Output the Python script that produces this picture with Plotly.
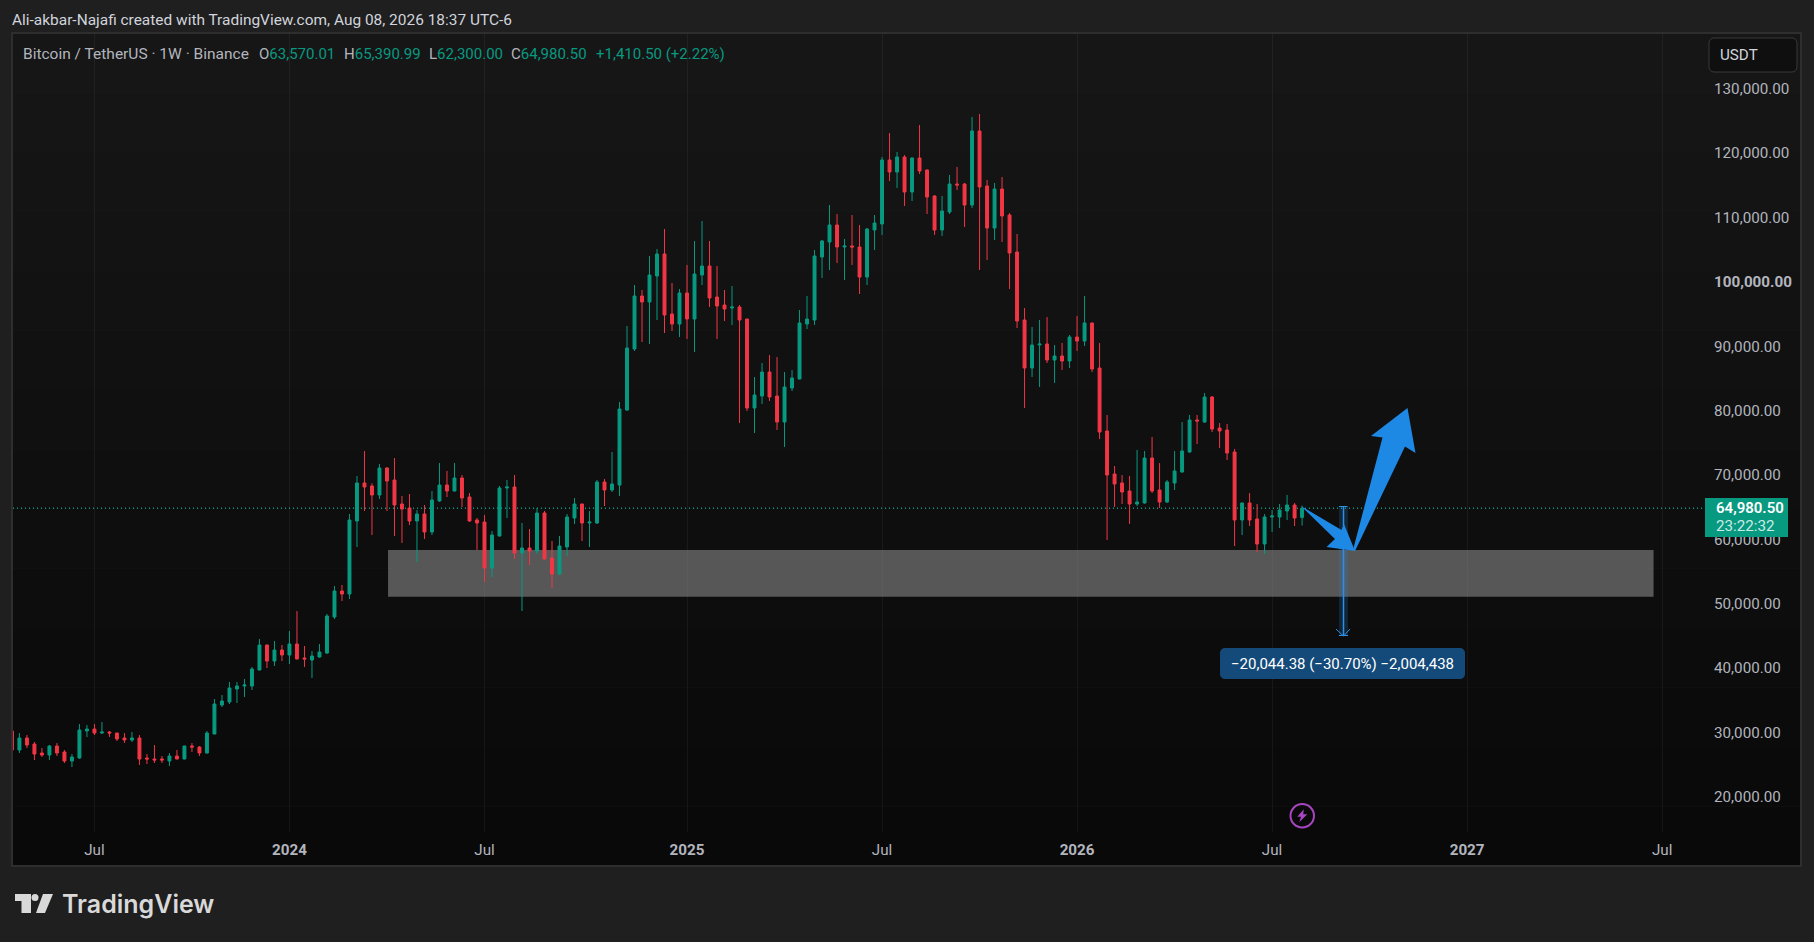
import pandas as pd
import plotly.graph_objects as go

# BTCUSDT weekly candles
dates = pd.date_range("2023-04-17", periods=173, freq="7D")
opens = [30392,27441,29305,28373,26975,26664,28062,27130,25733,26198,30400,30702,30080,30236,30080,29305,28994,29305,26198,26044,
         26044,25733,26509,26044,28062,27906,26975,29926,34431,34896,36915,37381,37381,39866,43748,41263,42972,42195,43903,41729,
         41419,41884,42505,48097,52135,51669,63007,68908,68443,67045,71238,69374,65647,65026,63007,64094,61298,66113,68598,67666,
         69685,66734,63162,62851,55707,60677,68132,68287,58037,58813,58347,64249,57260,54776,58969,63473,65647,62696,62696,69064,
         67821,68598,80243,89717,97948,97017,101054,104471,95152,93599,98414,94376,101209,102607,97793,96550,96085,96240,94376,80553,
         82417,86144,82417,78379,83660,85057,93599,94221,104005,106334,108975,105558,105714,105558,100898,108198,109130,119070,117207,119536,
         114100,119381,117518,113479,108199,110994,115343,115343,112081,123574,115032,108509,114566,110528,104782,94221,86766,90338,90493,88010,
         88631,87855,91582,90961,93757,86768,76983,70305,68907,67664,65645,65800,72790,67820,65956,68907,70615,73722,78692,78381,
         82264,77449,77138,73722,63161,65801,63316,59433,63627,63627,64559,65490,63570.01]
highs = [30500,30080,29771,28684,27751,28217,28528,27441,26820,31479,31323,31479,31789,30392,30100,30080,30236,29771,26820,28217,
         26509,26975,27441,28100,28528,28062,30392,35362,35983,38002,38002,38468,40331,44680,43800,44369,43748,45923,49029,43593,
         42816,43903,48563,52911,53067,64094,69996,73878,68857,71859,71393,72791,66889,67200,64715,65491,67666,72015,70772,72015,
         70151,67355,63473,63939,61454,68443,69374,70151,62696,61764,65026,64560,59901,60677,64094,66579,65700,64560,69374,69530,
         73723,81485,93289,99656,98880,104161,105247,108354,99967,99035,102763,106490,109596,106490,102607,98880,99501,96550,94400,85368,
         87542,88785,88474,86144,86455,95774,97948,105092,106645,112081,110684,106801,110528,108975,108509,110528,119536,123264,120313,119847,
         119450,124506,117600,113634,113479,116741,117983,115500,125749,126215,115964,115498,116430,110839,107577,96084,93133,94221,94687,90340,
         90651,91893,94844,97950,93800,90651,79468,71547,70149,69994,74032,73877,76051,72014,69373,73877,78381,79468,79468,82885,
         82420,78226,78071,74187,65850,67353,65645,64093,64714,65645,67043,65801,65390.99]
lows = [27100,26975,27751,25888,26353,25888,26509,25422,24800,26100,29460,29771,29926,29460,28838,28528,28683,25112,25267,25422,
        25422,24956,26000,26000,27130,26509,26900,29900,34118,34586,34741,35672,36760,39800,40176,40487,41263,40798,41500,40331,
        38624,41800,42350,47786,50582,50892,58969,64560,60832,66423,64560,60677,59590,62386,56639,60211,60832,66000,66734,67600,
        65181,62900,58503,53532,54309,60600,63473,57105,49029,56173,57881,57000,52601,54620,57571,62541,59901,58969,62541,65336,
        67511,66890,80100,89406,90804,90493,94221,92202,92512,91581,91270,89251,99656,96240,91270,94065,93444,78223,80087,76670,
        81175,81640,77137,74497,83194,85000,92823,93444,100743,101986,103073,100433,102763,98259,99656,105092,107422,115809,114722,111926,
        112702,116896,110684,107422,107267,110684,114411,108664,111615,101986,103539,106646,106335,99036,92977,80553,85368,83815,87542,84438,
        86457,86768,89408,90184,86146,75740,60054,65179,65645,62539,65335,65700,67353,65024,65800,67820,70500,73600,74964,78226,
        76828,74343,72479,59122,60831,62228,58191,57880,61297,61918,63161,62228,62300.00]
closes = [27441,29305,28217,26820,26664,28062,26975,25733,26353,30547,30702,30080,30236,30080,29149,28994,29305,26044,26044,25888,
          25888,26509,26044,28062,27906,26975,30080,34586,35052,37070,37381,37536,40021,43748,41263,42972,42195,43903,41574,41574,
          42040,42661,48253,52135,51669,63162,68909,68287,67045,71238,69219,65491,64870,63007,64094,61298,66268,68598,67666,69685,
          66579,63007,62696,55707,60832,68132,68287,58037,58813,58347,64249,57105,54776,59124,63628,65647,62696,62851,69064,67821,
          68753,80398,89872,97948,97017,101209,104471,94997,93599,98414,94376,101365,102607,97637,96395,95929,96240,94221,80553,82572,
          86144,82262,78379,83815,85212,93755,94376,104161,106490,108975,105558,105714,105558,100898,108354,109286,119070,117207,119536,114100,
          119381,117362,113324,108199,111150,115343,115187,112081,123574,114877,108509,114566,110373,104627,94066,86766,90338,90493,88008,88631,
          87855,91582,90961,93757,86612,76828,70149,68752,67509,65645,65956,72790,67664,65956,69062,70771,73877,78692,78537,82264,
          77294,76983,73566,63161,65801,63161,59433,63627,63782,64714,65490,63471,64980.50]

price_ticks = [20000, 30000, 40000, 50000, 60000, 70000, 80000, 90000, 100000, 110000, 120000, 130000]
time_ticks = ["2023-07-03", "2024-01-01", "2024-07-01", "2025-01-06", "2025-07-07", "2026-01-05", "2026-07-06", "2027-01-04", "2027-07-05"]
time_labels = ["Jul", "<b>2024</b>", "Jul", "<b>2025</b>", "Jul", "<b>2026</b>", "Jul", "<b>2027</b>", "Jul"]

last_price = 64980.50
zone_top = 58503
zone_bottom = 51255

UP = "#089981"
DOWN = "#F23645"
GREY = "#B2B5BE"
BLUE = "#1E88E5"
PURPLE = "#A845C0"
FONT = "Roboto"
TEXT_SIZE = 15.2

# plot area in page pixels, everything drawn around the chart is placed with these
LEFT, RIGHT, TOP, BOTTOM = 13, 1705, 34, 832


def px(x, y):
    return (x - LEFT) / (RIGHT - LEFT), (BOTTOM - y) / (BOTTOM - TOP)


def path(points, close=True):
    parts = []
    for i, (x, y) in enumerate(points):
        fx, fy = px(x, y)
        parts.append(("M" if i == 0 else "L") + f"{fx:.5f},{fy:.5f}")
    return " ".join(parts) + (" Z" if close else "")


def rect(x0, y0, x1, y1, fill, line=None, layer="above"):
    fx0, fy0 = px(x0, y0)
    fx1, fy1 = px(x1, y1)
    return dict(type="rect", xref="paper", yref="paper", x0=fx0, y0=fy0, x1=fx1, y1=fy1,
                fillcolor=fill, line=dict(color=line or fill, width=1 if line else 0), layer=layer)


def poly(points, fill, layer="above"):
    return dict(type="path", xref="paper", yref="paper", path=path(points), fillcolor=fill,
                line=dict(width=0), layer=layer)


def stroke(points, color, width=1, layer="above"):
    return dict(type="path", xref="paper", yref="paper", path=path(points, close=False),
                line=dict(color=color, width=width), layer=layer)


def rounded(x0, y0, x1, y1, r, fill, line=None):
    k = 0.45 * r
    d = []
    for i, (a, b, c1, c2, e) in enumerate([
        ((x0 + r, y0), (x1 - r, y0), (x1 - k, y0), (x1, y0 + k), (x1, y0 + r)),
        (None, (x1, y1 - r), (x1, y1 - k), (x1 - k, y1), (x1 - r, y1)),
        (None, (x0 + r, y1), (x0 + k, y1), (x0, y1 - k), (x0, y1 - r)),
        (None, (x0, y0 + r), (x0, y0 + k), (x0 + k, y0), (x0 + r, y0)),
    ]):
        if a:
            d.append("M%.5f,%.5f" % px(*a))
        d.append("L%.5f,%.5f" % px(*b))
        d.append("C%.5f,%.5f %.5f,%.5f %.5f,%.5f" % (*px(*c1), *px(*c2), *px(*e)))
    return dict(type="path", xref="paper", yref="paper", path=" ".join(d) + " Z", fillcolor=fill,
                line=dict(color=line or fill, width=1 if line else 0), layer="above")


def label(x, y, text, color=GREY, size=TEXT_SIZE, anchor="left", weight=None):
    fx, fy = px(x, y)
    font = dict(family=FONT, size=size, color=color)
    if weight:
        font["weight"] = weight
    return dict(xref="paper", yref="paper", x=fx, y=fy, text=text, showarrow=False, xanchor=anchor,
                yanchor="middle", font=font, borderpad=0, borderwidth=0)


fig = go.Figure(go.Candlestick(
    x=dates, open=opens, high=highs, low=lows, close=closes,
    increasing=dict(line=dict(color=UP, width=1), fillcolor=UP),
    decreasing=dict(line=dict(color=DOWN, width=1), fillcolor=DOWN),
    whiskerwidth=0,
    showlegend=False,
))

shapes = []

# background fades from top to bottom of the pane
steps = 14
for i in range(steps):
    shade = 0x16 - i
    y0 = 33 + (866 - 33) * i / steps
    y1 = 33 + (866 - 33) * (i + 1) / steps
    shapes.append(rect(12, y0, 1801, y1, f"rgb({shade},{shade},{shade})", layer="below"))
shapes.append(dict(type="rect", xref="paper", yref="paper", x0=px(12, 0)[0], x1=px(1801, 0)[0],
                   y0=px(0, 866)[1], y1=px(0, 33)[1], line=dict(color="#2E2E2E", width=2), layer="below"))

# support zone, over the grid but under the candles
shapes.append(dict(type="rect", xref="x", yref="y", x0="2024-04-02", x1="2027-06-27", y0=zone_bottom, y1=zone_top,
                   fillcolor="rgba(128,128,128,0.65)", line=dict(width=0), layer="between"))

# last price line
shapes.append(dict(type="line", xref="paper", yref="y", x0=0, x1=1, y0=last_price, y1=last_price,
                   line=dict(color=UP, width=1.4, dash="1px,3px"), layer="between"))

# measure tool
shapes.append(rect(1339, 506, 1348, 636, "rgba(33,136,229,0.2)"))
shapes.append(stroke([(1343.5, 506), (1343.5, 636)], "#2F8FE0", 1.5))
shapes.append(stroke([(1339, 506.5), (1347.5, 506.5)], "#2F8FE0", 1))
shapes.append(stroke([(1339, 635.5), (1348, 635.5)], "#2F8FE0", 1))
shapes.append(stroke([(1336, 629), (1343.5, 636), (1350, 629)], "#2F8FE0", 1))
shapes.append(rounded(1220, 648, 1465, 679, 5, "#144A7A"))

# hand drawn arrows
shapes.append(poly([(1301, 506), (1341.5, 530), (1344, 524), (1355, 551), (1326.5, 547), (1335, 539)], BLUE))
shapes.append(poly([(1353, 550), (1382.5, 437.5), (1371, 436), (1407.5, 408), (1415.5, 453), (1405, 446.5), (1355, 551)], BLUE))

# USDT button
shapes.append(rounded(1709, 38, 1797, 72, 5, "#0F0F0F", "#3A3A3A"))

# last price tag
shapes.append(rect(1705, 498, 1788, 537, "#089981"))

# lightning badge
shapes.append(dict(type="circle", xref="paper", yref="paper",
                   x0=px(1290.5, 0)[0], x1=px(1314, 0)[0], y0=px(0, 827.5)[1], y1=px(0, 804)[1],
                   line=dict(color=PURPLE, width=2), fillcolor="rgba(0,0,0,0)", layer="above"))
shapes.append(poly([(1303.7, 809.3), (1297.3, 816.7), (1301, 816.7), (1299.3, 822.3), (1307.3, 814.3), (1303.3, 814.3)], PURPLE))

# TradingView logo
shapes.append(poly([(15, 894), (31, 894), (31, 913), (21.5, 913), (21.5, 901), (15, 901)], "#D9D9D9"))
shapes.append(dict(type="circle", xref="paper", yref="paper",
                   x0=px(31.5, 0)[0], x1=px(38.5, 0)[0], y0=px(0, 901)[1], y1=px(0, 894)[1],
                   fillcolor="#D9D9D9", line=dict(width=0), layer="above"))
shapes.append(poly([(43, 894), (53, 894), (45, 913), (36, 913)], "#D9D9D9"))

annotations = [
    label(12, 20, "Ali-akbar-Najafi created with TradingView.com, Aug 08, 2026 18:37 UTC-6", "#D1D4DC", 15.45),
    label(23, 54, "Bitcoin / TetherUS · 1W · Binance", size=15.5),
    label(259, 54, f"O<span style='color:{UP}'>63,570.01</span>", size=15),
    label(343.5, 54, f"H<span style='color:{UP}'>65,390.99</span>", size=15),
    label(428.5, 54, f"L<span style='color:{UP}'>62,300.00</span>", size=15),
    label(511, 54, f"C<span style='color:{UP}'>64,980.50</span>", size=15),
    label(595.5, 54, "+1,410.50 (+2.22%)", UP, 15),
    label(1720, 55, "USDT", "#D1D4DC"),
    label(1716, 508, "64,980.50", "#FFFFFF", 15, weight=600),
    label(1716, 526, "23:22:32", "#CDEBE5"),
    label(1342.5, 663.5, "−20,044.38 (−30.70%) −2,004,438", "#FFFFFF", 15, anchor="center"),
    label(62, 904, "TradingView", "#D9D9D9", 25, weight=600),
]
annotations[-1]["font"]["family"] = "Inter"

fig.update_layout(
    width=1814,
    height=942,
    margin=dict(l=LEFT, r=1814 - RIGHT, t=TOP, b=942 - BOTTOM, pad=0),
    paper_bgcolor="#1F1F1F",
    plot_bgcolor="rgba(0,0,0,0)",
    font=dict(family=FONT, size=TEXT_SIZE, color=GREY),
    boxgap=0.44,
    hovermode=False,
    shapes=shapes,
    annotations=annotations,
    xaxis=dict(
        type="date",
        range=["2023-04-18", "2027-08-14"],
        rangeslider=dict(visible=False),
        tickmode="array",
        tickvals=time_ticks,
        ticktext=time_labels,
        tickangle=0,
        ticks="outside",
        ticklen=4,
        tickcolor="rgba(0,0,0,0)",
        showgrid=True,
        gridcolor="rgba(255,255,255,0.05)",
        gridwidth=1,
        zeroline=False,
        showline=False,
    ),
    yaxis=dict(
        side="right",
        range=[14709, 138639],
        tickmode="array",
        tickvals=price_ticks,
        ticktext=[("<b>%s</b>" if v == 100000 else "%s") % f"{v:,.2f}" for v in price_ticks],
        ticks="outside",
        ticklen=5,
        ticklabelshift=-1,
        tickcolor="rgba(0,0,0,0)",
        showgrid=False,
        zeroline=False,
        showline=False,
    ),
)

fig.write_html("out.html", config=dict(displayModeBar=False),
               post_script="document.body.style.margin='0';")
